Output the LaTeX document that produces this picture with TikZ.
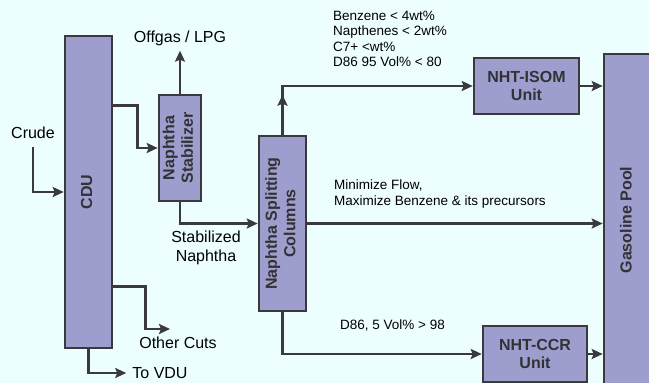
\documentclass[tikz,border=0pt]{standalone}
\usepackage{fontspec}
\setmainfont{Liberation Sans}
\usepackage{tikz}
\usetikzlibrary{positioning,calc,arrows.meta}
\definecolor{canvas}{RGB}{236,254,254}
\definecolor{unitfill}{RGB}{158,158,206}
\definecolor{unitline}{RGB}{58,58,62}
\definecolor{unittext}{RGB}{50,50,54}
\newcommand{\vtext}[1]{\rotatebox{90}{\begin{tabular}{@{}c@{}}#1\end{tabular}}}

\begin{document}
\begin{tikzpicture}[x=1pt, y=-1pt, unit/.style={draw=unitline, fill=unitfill, line width=2.6pt, inner sep=0pt, align=center, text=unittext, font=\fontsize{16}{18.5}\selectfont\bfseries}, flow/.style={-{Stealth[length=11pt,width=10pt,inset=2pt]}, draw=unitline, line width=2.6pt}, lbl/.style={inner sep=0pt, align=center, text=black, font=\fontsize{16}{19}\selectfont}, note/.style={inner sep=0pt, align=left, anchor=north west, text=black, font=\fontsize{13.5}{15.3}\selectfont}]
\fill[canvas] (0,0) rectangle (649,383);
\useasboundingbox (0,0) rectangle (649,383);
% process units
\node[unit, minimum width=47pt, minimum height=312pt] (cdu) at (88.5,192) {\vtext{CDU}};
\node[unit, minimum width=42pt, minimum height=106pt] (stab) at (180,148) {\vtext{Naphtha\\Stabilizer}};
\node[unit, minimum width=47pt, minimum height=175pt] (split) at (282.5,223.5) {\vtext{Naphtha Splitting\\Columns}};
\node[unit, minimum width=105pt, minimum height=56pt] (isom) at (526.5,86) {NHT-ISOM\\Unit};
\node[unit, minimum width=104pt, minimum height=56pt] (ccr) at (535,354) {NHT-CCR\\Unit};
\node[unit, minimum width=48pt, minimum height=332pt] (pool) at (628,220) {\vtext{Gasoline Pool}};
% stream labels
\node[lbl] (crude) at (33,133) {Crude};
\node[lbl] (offgas) at (180,38) {Offgas / LPG};
\node[lbl] (stabn) at (206,248) {Stabilized\\Naphtha};
\node[lbl] (othcuts) at (178,343) {Other Cuts};
\node[lbl] (vdu) at (160,373) {To VDU};
\node[note] (spec) at (333,11) {Benzene < 4wt\%\\Napthenes < 2wt\%\\C7+ <wt\%\\D86 95 Vol\% < 80};
\node[note] (minflow) at (334,180) {Minimize Flow,\\Maximize Benzene \& its precursors};
\node[note] (d86) at (340,320) {D86, 5 Vol\% > 98};
\coordinate (othend) at (170,329);
% streams
\draw[flow] ([yshift=-8pt]crude.south) |- (cdu.west);
\draw[flow] ($(cdu.north east)+(0,71)$) -- ++(24,0) |- (stab.west);
\draw[flow] (stab.north) -- ([yshift=-5pt]offgas.south);
\draw[flow] (stab.south) |- (split.west);
\draw[flow] ($(cdu.south east)+(0,-63)$) -- ++(32,0) |- (othend);
\draw[flow] (cdu.south) |- ([xshift=-6pt]vdu.west);
\draw[flow] (split.north) |- (isom.west);
\draw[flow] (split.north) -- ++(0,-40);
\draw[flow] (isom.east) -- (isom.east -| pool.west);
\draw[flow] (split.east) -- (split.east -| pool.west);
\draw[flow] (split.south) |- (ccr.west);
\draw[flow] (ccr.east) -- (ccr.east -| pool.west);
\end{tikzpicture}
\end{document}
